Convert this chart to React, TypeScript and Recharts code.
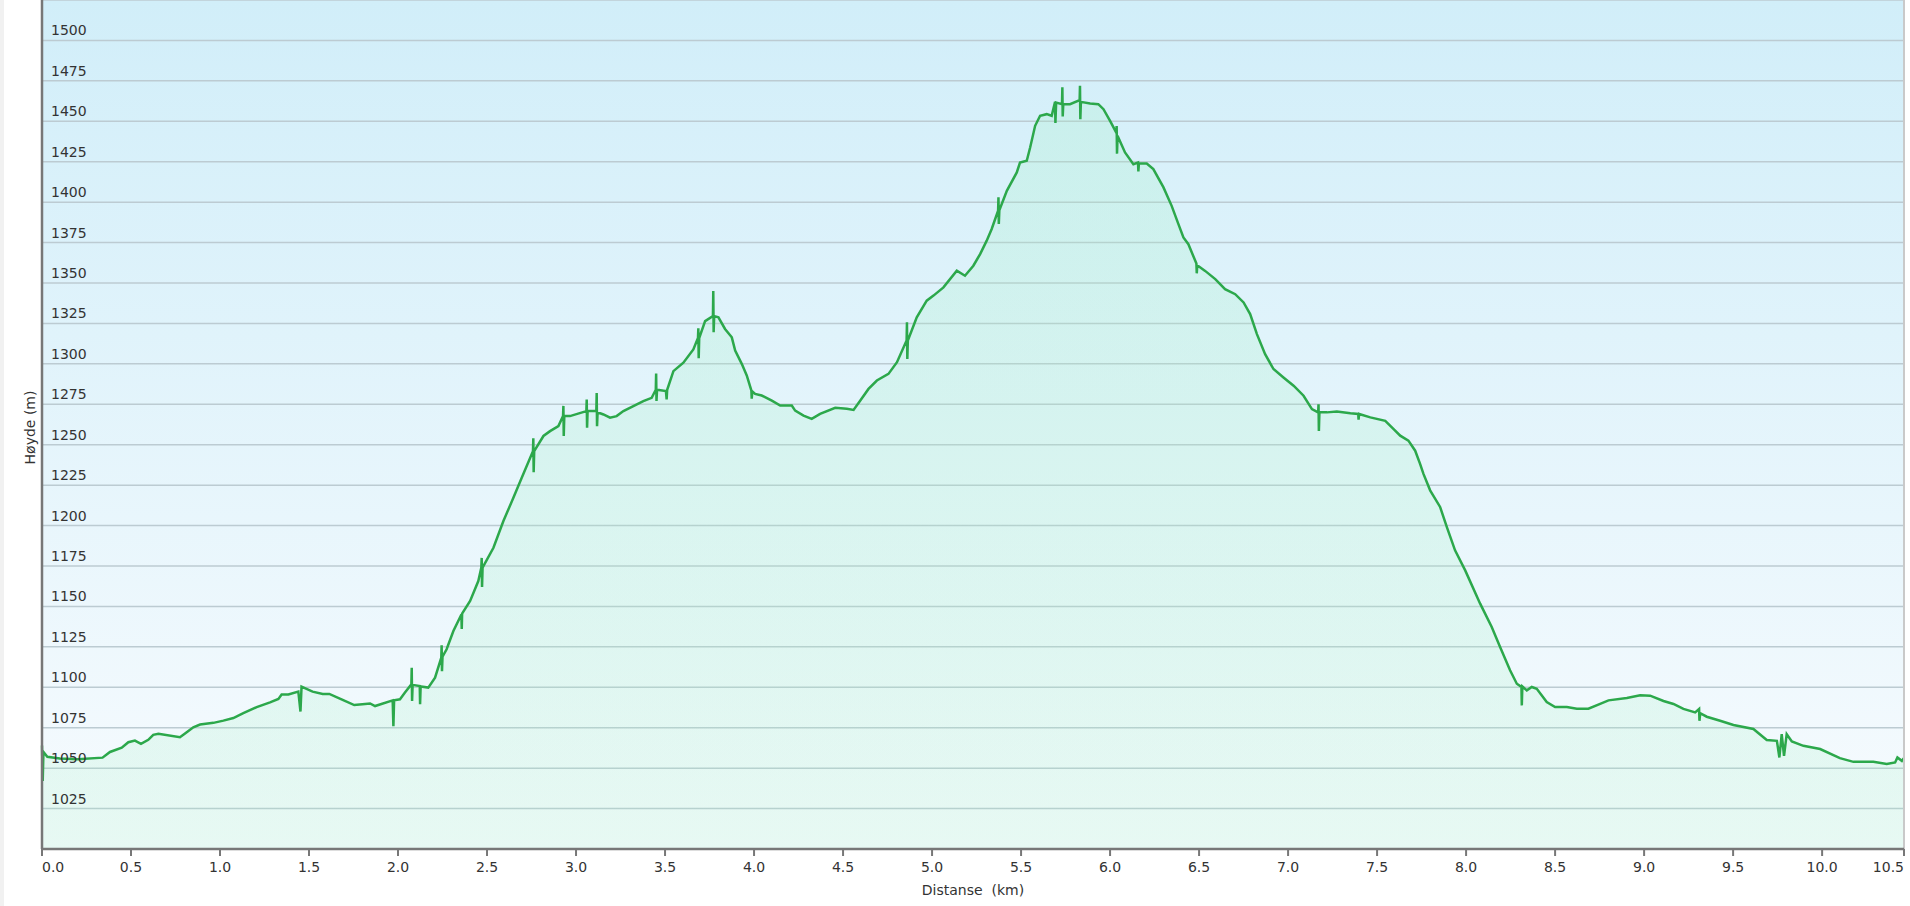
import {
  AreaChart,
  Area,
  XAxis,
  YAxis,
  CartesianGrid,
  ReferenceLine,
  Label,
} from "recharts";

// distance along the route (km) and elevation (m)
const distanceKm = [
  0, 0.004, 0.008, 0.03, 0.1, 0.2, 0.34, 0.382, 0.448, 0.485, 0.522, 0.556, 0.597, 0.625, 0.654,
  0.775, 0.813, 0.85, 0.888, 0.963, 1.019, 1.075, 1.131, 1.206, 1.281, 1.328, 1.346, 1.384, 1.44,
  1.452, 1.458, 1.52, 1.577, 1.614, 1.689, 1.754, 1.8, 1.843, 1.871, 1.97, 1.974, 1.978, 2.011,
  2.039, 2.075, 2.077, 2.079, 2.082, 2.122, 2.124, 2.127, 2.17, 2.208, 2.243, 2.245, 2.247, 2.25,
  2.273, 2.311, 2.356, 2.358, 2.36, 2.405, 2.451, 2.468, 2.47, 2.472, 2.475, 2.536, 2.592, 2.648,
  2.695, 2.758, 2.76, 2.762, 2.765, 2.817, 2.854, 2.901, 2.927, 2.929, 2.931, 2.934, 2.966, 3.058,
  3.06, 3.062, 3.065, 3.114, 3.116, 3.118, 3.121, 3.154, 3.191, 3.228, 3.266, 3.322, 3.378, 3.425,
  3.448, 3.45, 3.452, 3.455, 3.505, 3.509, 3.512, 3.547, 3.603, 3.659, 3.685, 3.687, 3.689, 3.692,
  3.725, 3.769, 3.771, 3.773, 3.776, 3.8, 3.837, 3.875, 3.894, 3.931, 3.959, 3.985, 3.987, 3.99,
  4.006, 4.043, 4.1, 4.147, 4.212, 4.231, 4.278, 4.324, 4.371, 4.456, 4.521, 4.559, 4.597, 4.643,
  4.69, 4.755, 4.803, 4.857, 4.859, 4.861, 4.864, 4.914, 4.97, 5.008, 5.064, 5.139, 5.185, 5.232,
  5.27, 5.307, 5.335, 5.371, 5.373, 5.375, 5.378, 5.42, 5.476, 5.494, 5.532, 5.551, 5.579, 5.607,
  5.644, 5.672, 5.691, 5.693, 5.697, 5.73, 5.732, 5.734, 5.737, 5.775, 5.829, 5.831, 5.833, 5.836,
  5.888, 5.934, 5.963, 6.0, 6.035, 6.037, 6.039, 6.042, 6.084, 6.131, 6.157, 6.159, 6.162, 6.206,
  6.243, 6.3, 6.346, 6.384, 6.412, 6.44, 6.485, 6.487, 6.49, 6.534, 6.591, 6.646, 6.703, 6.75,
  6.787, 6.825, 6.871, 6.918, 6.974, 7.031, 7.087, 7.134, 7.169, 7.171, 7.173, 7.176, 7.218, 7.274,
  7.35, 7.394, 7.396, 7.399, 7.462, 7.546, 7.593, 7.63, 7.676, 7.714, 7.742, 7.76, 7.798, 7.854,
  7.892, 7.938, 7.995, 8.079, 8.144, 8.191, 8.247, 8.285, 8.311, 8.313, 8.316, 8.341, 8.369, 8.397,
  8.453, 8.5, 8.566, 8.622, 8.687, 8.753, 8.8, 8.903, 8.978, 9.034, 9.109, 9.165, 9.221, 9.287,
  9.309, 9.311, 9.315, 9.352, 9.427, 9.502, 9.614, 9.689, 9.746, 9.76, 9.773, 9.786, 9.801, 9.83,
  9.895, 9.989, 10.1, 10.176, 10.288, 10.363, 10.41, 10.423, 10.448, 10.459,
];

const elevationM = [
  1064, 1042, 1060, 1057, 1056, 1055.5, 1056.5, 1060, 1062.6, 1066, 1067, 1065, 1067.5, 1070.6, 1071.2,
  1069.1, 1072.2, 1075.3, 1077, 1078, 1079.4, 1081, 1084, 1087.7, 1090.7, 1092.8, 1095.5, 1095.5, 1097.3,
  1085, 1100.4, 1097.3, 1095.9, 1095.9, 1092.2, 1089, 1089.5, 1090, 1088.4, 1091.9, 1076, 1092, 1092.6,
  1096.7, 1101.8, 1112, 1091.5, 1101.5, 1100.8, 1089.5, 1100.5, 1099.8, 1106, 1118.3, 1126, 1110, 1119,
  1123.5, 1134.8, 1145, 1136, 1145.5, 1153.4, 1165.7, 1174, 1180, 1162, 1174, 1186.3, 1202.8, 1217.2,
  1229.6, 1246, 1254, 1233, 1246, 1255.4, 1258.4, 1261.5, 1267.7, 1274, 1255.4, 1267.7, 1267.7, 1270.8,
  1278, 1260.5, 1270.8, 1270.8, 1282, 1261.5, 1270, 1268.7, 1266.7, 1267.7, 1270.8, 1273.9, 1277, 1279,
  1284, 1294, 1277, 1284, 1283.2, 1278, 1284, 1295.5, 1300.7, 1308.9, 1316, 1322, 1303.5, 1316,
  1326.4, 1329.5, 1345, 1319.5, 1329.5, 1328.8, 1321.6, 1316.4, 1308.2, 1300, 1292.8, 1283.5, 1278.5, 1283,
  1281.4, 1280.4, 1277.3, 1274.2, 1274.2, 1271.1, 1268, 1266, 1269.1, 1272.8, 1272.2, 1271.5, 1277.3, 1284.5,
  1289.7, 1293.8, 1301, 1314.4, 1325.7, 1303, 1314.4, 1328.8, 1339.1, 1342.2, 1347.3, 1357.6, 1354.5, 1360.7,
  1367.9, 1376.2, 1383.4, 1394.7, 1403, 1386.5, 1395, 1407, 1418.4, 1424.5, 1425.6, 1433.8, 1447.2, 1453.4,
  1454.4, 1453.4, 1462, 1449, 1461.6, 1460.6, 1471, 1453, 1460.6, 1460.6, 1463, 1472, 1451.3, 1462,
  1461, 1460.6, 1457.5, 1450.3, 1443, 1447, 1430, 1441, 1430.7, 1423.5, 1424.5, 1419, 1424, 1423.9,
  1420.4, 1409.1, 1397.7, 1386.4, 1378.2, 1374, 1362, 1356, 1361, 1357.5, 1352.4, 1346.2, 1343.1, 1338,
  1330.8, 1318.4, 1306, 1296.8, 1291.6, 1286.5, 1280.3, 1272, 1270, 1275, 1258.5, 1270, 1270, 1270.6,
  1269.4, 1269, 1265.5, 1269, 1266.9, 1264.8, 1259.7, 1255.6, 1252.5, 1246.3, 1238, 1232.1, 1221.8, 1211.5,
  1199.1, 1184.7, 1172.3, 1151.7, 1137.3, 1124.9, 1110.5, 1102.2, 1100.2, 1088.8, 1100.5, 1098.1, 1100.2, 1099.1,
  1090.9, 1087.8, 1087.8, 1086.8, 1086.8, 1089.8, 1091.9, 1093.4, 1095, 1094.8, 1091.5, 1089.7, 1086.6, 1084.5,
  1086.6, 1079.3, 1084, 1081.8, 1079.3, 1076.7, 1074.2, 1067.4, 1066.9, 1056.6, 1071, 1057.6, 1071, 1066.5,
  1063.8, 1061.8, 1056.2, 1053.9, 1053.9, 1052.5, 1053.5, 1056.6, 1054.5, 1056.2,
];

const xTicks = [0, 0.5, 1, 1.5, 2, 2.5, 3, 3.5, 4, 4.5, 5, 5.5, 6, 6.5, 7, 7.5, 8, 8.5, 9, 9.5, 10, 10.46];
const yTicks = [1025, 1050, 1075, 1100, 1125, 1150, 1175, 1200, 1225, 1250, 1275, 1300, 1325, 1350, 1375, 1400, 1425, 1450, 1475, 1500];

const data = distanceKm.map((d, i) => ({ dist: d, elev: elevationM[i] }));

const FONT = "'DejaVu Sans', Verdana, sans-serif";
const TEXT = "#333";

function XTick(props: any) {
  const { x, y, payload, index } = props;
  const anchor = index === 0 ? "start" : index === xTicks.length - 1 ? "end" : "middle";
  return (
    <text x={x} y={y} dy="0.71em" textAnchor={anchor} fontSize={14} fill={TEXT} fontFamily={FONT}>
      {Number(payload.value).toFixed(1)}
    </text>
  );
}

function YTick(props: any) {
  const { x, y, payload } = props;
  return (
    <text x={x + 9} y={y - 5} textAnchor="start" fontSize={14} fill={TEXT} fontFamily={FONT}>
      {payload.value}
    </text>
  );
}

function YTitle(props: any) {
  const vb = props.viewBox;
  const cx = vb.x + vb.width - 12;
  const cy = vb.y + vb.height / 2 + 3;
  return (
    <text
      x={cx}
      y={cy}
      transform={`rotate(-90 ${cx} ${cy})`}
      textAnchor="middle"
      dominantBaseline="central"
      fontSize={14}
      fill={TEXT}
      fontFamily={FONT}
    >
      Høyde (m)
    </text>
  );
}

export default function App() {
  return (
    <div
      style={{
        position: "absolute",
        left: 0,
        top: 0,
        width: 1910,
        height: 906,
        background: "#fff",
        fontFamily: FONT,
      }}
    >
      <div style={{ position: "absolute", left: 0, top: 0, width: 4, height: 906, background: "#f1f1f1" }} />
      <AreaChart width={1910} height={906} data={data} margin={{ top: 0, right: 6, bottom: 0, left: 0 }}>
        <defs>
          <linearGradient id="bgGrad" x1="0" y1="0" x2="0" y2="1">
            <stop offset="0%" stopColor="#d1eef9" />
            <stop offset="100%" stopColor="#f7fbfe" />
          </linearGradient>
          <linearGradient id="fillGrad" x1="0" y1="0" x2="0" y2="1">
            <stop offset="0%" stopColor="#9ff0c0" stopOpacity={0.22} />
            <stop offset="100%" stopColor="#9ff0c0" stopOpacity={0.18} />
          </linearGradient>
        </defs>
        <CartesianGrid vertical={false} stroke="#bccbd2" strokeWidth={1.5} fill="url(#bgGrad)" fillOpacity={1} />
        <XAxis
          dataKey="dist"
          type="number"
          domain={[0, 10.46]}
          ticks={xTicks}
          interval={0}
          height={57}
          tick={<XTick />}
          tickSize={7}
          tickMargin={6}
          tickLine={{ stroke: "#777", strokeWidth: 2 }}
          axisLine={{ stroke: "#777", strokeWidth: 2.5 }}
        >
          <Label value={"Distanse\u00a0 (km)"} position="insideBottom" offset={11} fontSize={14} fill={TEXT} fontFamily={FONT} />
        </XAxis>
        <YAxis
          type="number"
          domain={[1000, 1525]}
          ticks={yTicks}
          interval={0}
          width={42}
          tick={<YTick />}
          tickLine={false}
          tickSize={0}
          tickMargin={0}
          axisLine={{ stroke: "#777", strokeWidth: 2.5 }}
        >
          <Label content={<YTitle />} />
        </YAxis>
        <ReferenceLine x={10.46} stroke="#c9c9c9" strokeWidth={2} />
        <Area
          type="linear"
          dataKey="elev"
          stroke="#2ca84b"
          strokeWidth={2.5}
          fill="url(#fillGrad)"
          fillOpacity={1}
          dot={false}
          activeDot={false}
          isAnimationActive={false}
        />
      </AreaChart>
    </div>
  );
}
